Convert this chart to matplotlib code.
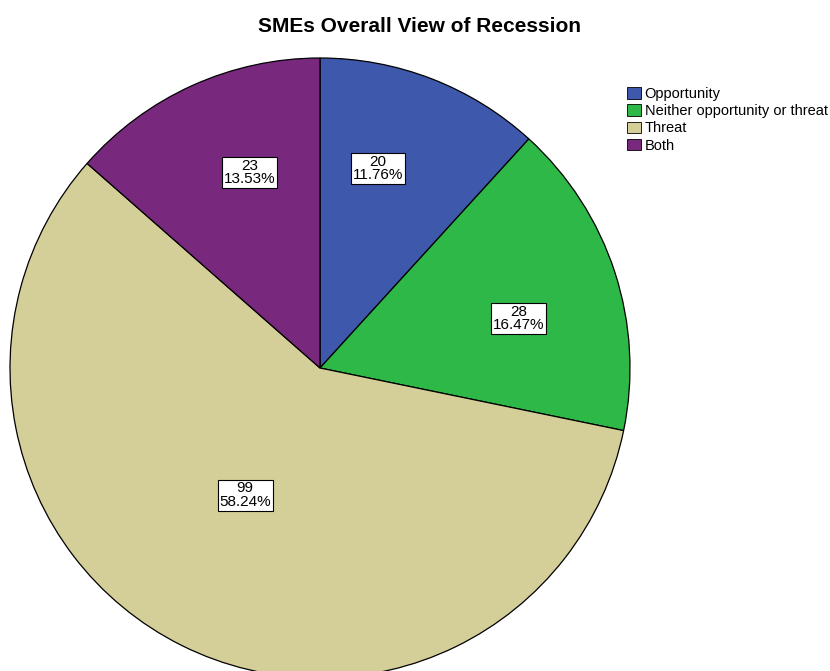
import matplotlib.pyplot as plt
import numpy as np

# dados
categorias = ["Opportunity", "Neither opportunity or threat", "Threat", "Both"]
contagens = [20, 28, 99, 23]
cores = ["#3E58AC", "#2EB848", "#D4CE99", "#78287D"]

plt.rcParams["font.family"] = ["Liberation Sans", "DejaVu Sans"]

fig = plt.figure(figsize=(8.3, 6.71), dpi=100)
# eixo do pizza em pixels: centro (320, 368), raio 310
ax = fig.add_axes([10 / 830, (671 - 678) / 671, 620 / 830, 620 / 671])

total = sum(contagens)
fatias, _ = ax.pie(contagens, colors=cores, startangle=90, counterclock=False,
                   radius=1.0, wedgeprops=dict(edgecolor="black", linewidth=0.9))
for w in fatias:
    w.set_clip_on(False)
ax.set_xlim(-1, 1)
ax.set_ylim(-1, 1)
ax.set_aspect("equal")
ax.axis("off")

# rotulos dentro das fatias
raios = [0.67, 0.66, 0.476, 0.67]
desvio = [5, -4, -4, -4.6]
for w, n, r, d in zip(fatias, contagens, raios, desvio):
    ang = np.deg2rad((w.theta1 + w.theta2) / 2 + d)
    ax.text(r * np.cos(ang), r * np.sin(ang), "%d\n%.2f%%" % (n, 100 * n / total),
            ha="center", va="center", fontsize=11, linespacing=0.95,
            bbox=dict(boxstyle="square,pad=0.12", fc="white", ec="black", lw=0.8))

fig.text(420 / 830, 1 - 27 / 671, "SMEs Overall View of Recession",
         ha="center", va="center", fontsize=15, fontweight="bold")

leg = fig.legend(fatias, categorias, loc="upper left", bbox_to_anchor=(627 / 830, 1 - 87 / 671),
                 frameon=False, fontsize=10.5, handlelength=0.95, handleheight=0.85,
                 handletextpad=0.25, labelspacing=0.22, borderpad=0, borderaxespad=0)
for h in leg.legend_handles:
    h.set_linewidth(0.6)

plt.savefig("out.png", dpi=100)
